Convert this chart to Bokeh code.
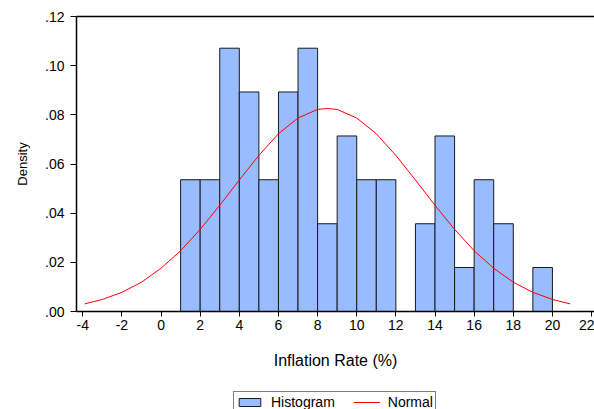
from bokeh.plotting import figure
from bokeh.layouts import column
from bokeh.models import (Range1d, FixedTicker, CustomJSTickFormatter, Legend,
                          LegendItem, LinearAxis, ColumnDataSource)
from bokeh.embed import file_html
from bokeh.resources import INLINE

# ---- data ----
bin_left = [1, 2, 3, 4, 5, 6, 7, 8, 9, 10, 11, 12, 13, 14, 15, 16, 17, 18, 19]
bin_right = [2, 3, 4, 5, 6, 7, 8, 9, 10, 11, 12, 13, 14, 15, 16, 17, 18, 19, 20]
density = [0.0536, 0.0536, 0.1071, 0.0893, 0.0536, 0.0893, 0.1071, 0.0357,
           0.0714, 0.0536, 0.0536, 0.0, 0.0357, 0.0714, 0.0179, 0.0536,
           0.0357, 0.0, 0.0179]

normal_x = [-3.9, -3, -2, -1, 0, 1, 2, 3, 4, 5, 6, 7, 8, 8.5, 9, 10, 11, 12,
            13, 14, 15, 16, 17, 18, 19, 20, 20.9]
normal_y = [0.0031, 0.0049, 0.0078, 0.0119, 0.0176, 0.0247, 0.0334, 0.0432,
            0.0535, 0.0635, 0.0723, 0.0787, 0.0822, 0.0826, 0.0822, 0.0787,
            0.0723, 0.0635, 0.0535, 0.0432, 0.0334, 0.0247, 0.0176, 0.0119,
            0.0078, 0.0049, 0.0031]

x_ticks = [-4, -2, 0, 2, 4, 6, 8, 10, 12, 14, 16, 18, 20, 22]
y_ticks = [0.0, 0.02, 0.04, 0.06, 0.08, 0.10, 0.12]

x_label = "Inflation Rate (%)"
y_label = "Density"
legend_labels = ["Histogram", "Normal"]

FONT = "Liberation Sans"
BAR_FILL = "#99BBFF"
BAR_LINE = "#1a1a1a"
CURVE = "#FF0000"

# keep only non-empty bins
bars = [(l, r, d) for l, r, d in zip(bin_left, bin_right, density) if d > 0]
src = ColumnDataSource(dict(left=[b[0] for b in bars], right=[b[1] for b in bars],
                            top=[b[2] for b in bars], bottom=[0] * len(bars)))
line_src = ColumnDataSource(dict(x=normal_x, y=normal_y))

p = figure(width=594, height=390, output_backend="svg", toolbar_location=None,
           x_range=Range1d(-4.32, 22.15), y_range=Range1d(0, 0.12),
           x_axis_location=None, y_axis_location=None,
           min_border_left=76, min_border_right=0, min_border_top=16,
           min_border_bottom=79)
p.outline_line_color = None
p.grid.visible = False
p.background_fill_color = "white"
p.border_fill_color = "white"

r_hist = p.quad(left="left", right="right", top="top", bottom="bottom", source=src,
                fill_color=BAR_FILL, line_color=BAR_LINE, line_width=1)
r_norm = p.line(x="x", y="y", source=line_src, line_color=CURVE, line_width=1)

xaxis = LinearAxis(ticker=FixedTicker(ticks=x_ticks), axis_label=x_label,
                   formatter=CustomJSTickFormatter(code="return String(tick);"))
yaxis = LinearAxis(ticker=FixedTicker(ticks=y_ticks), axis_label=y_label,
                   formatter=CustomJSTickFormatter(code="return tick.toFixed(2).replace(/^0/, '');"))
for ax in (xaxis, yaxis):
    ax.axis_line_color = "black"
    ax.axis_line_width = 1.5
    ax.major_tick_line_color = "black"
    ax.major_tick_in = 0
    ax.minor_tick_line_color = None
    ax.major_label_text_font = FONT
    ax.major_label_text_font_size = "14px"
    ax.major_label_text_color = "black"
    ax.axis_label_text_font = FONT
    ax.axis_label_text_font_style = "normal"
    ax.axis_label_text_color = "black"
xaxis.major_tick_out = 5
xaxis.major_label_standoff = 3
xaxis.axis_label_text_font_size = "16px"
xaxis.axis_label_standoff = 19
yaxis.major_tick_out = 6
yaxis.major_label_standoff = 6
yaxis.axis_label_text_font_size = "13px"
yaxis.axis_label_standoff = 12
p.add_layout(xaxis, "below")
p.add_layout(yaxis, "left")

top_line = LinearAxis(major_tick_line_color=None, minor_tick_line_color=None,
                      major_label_text_font_size="0px", axis_line_color="black",
                      axis_line_width=1.5)
top_line.major_label_text_color = None
p.add_layout(top_line, "above")

# ---- legend strip below the chart (swatches drawn off-range) ----
p2 = figure(width=594, height=19, output_backend="svg", toolbar_location=None,
            x_range=Range1d(0, 1), y_range=Range1d(0, 1),
            x_axis_location=None, y_axis_location=None,
            min_border_left=76, min_border_right=0, min_border_top=0,
            min_border_bottom=0)
p2.outline_line_color = None
p2.grid.visible = False
p2.background_fill_color = "white"
p2.border_fill_color = "white"
k_hist = p2.quad(left=[-9], right=[-8], top=[-8], bottom=[-9],
                 fill_color=BAR_FILL, line_color=BAR_LINE, line_width=1)
k_norm = p2.line(x=[-9, -8], y=[-9, -8], line_color=CURVE, line_width=1)

legend = Legend(items=[LegendItem(label=legend_labels[0], renderers=[k_hist]),
                       LegendItem(label=legend_labels[1], renderers=[k_norm])],
                orientation="horizontal", location=(157, -4),
                label_text_font=FONT, label_text_font_size="14px",
                label_text_color="black", glyph_width=27, glyph_height=10,
                label_height=10, label_standoff=8, spacing=18, padding=2,
                margin=0, border_line_color="black", border_line_width=1,
                background_fill_color="white", background_fill_alpha=1)
p2.add_layout(legend, "center")

layout = column(p, p2, spacing=0)
open("out.html", "w").write(file_html(layout, INLINE))
